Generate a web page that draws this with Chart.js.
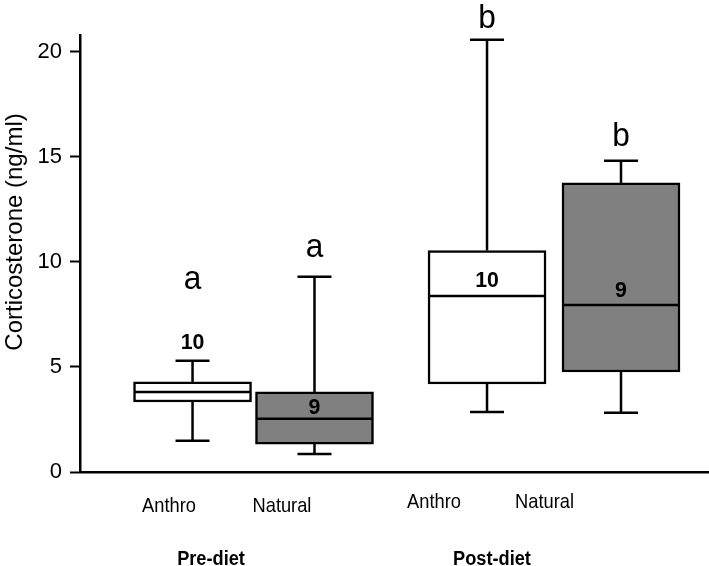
<!DOCTYPE html>
<html>
<head>
<meta charset="utf-8">
<script src="https://cdn.jsdelivr.net/npm/chart.js@4/dist/chart.umd.min.js"></script>
<style>
html, body { margin: 0; padding: 0; background: #ffffff; }
#wrap { width: 709px; height: 566px; }
</style>
</head>
<body>
<div id="wrap"><canvas id="c" width="709" height="566"></canvas></div>
<script>
// ---------------- data ----------------
const groups = ['Pre-diet', 'Post-diet'];
const diets = ['Anthro', 'Natural'];

const anthroMin    = [1.49, 2.86];
const anthroQ1     = [3.33, 4.19];
const anthroMedian = [3.81, 8.38];
const anthroQ3     = [4.29, 10.54];
const anthroMax    = [5.30, 20.57];
const anthroN      = [10, 10];
const anthroLetter = ['a', 'b'];

const naturalMin    = [0.86, 2.82];
const naturalQ1     = [1.33, 4.76];
const naturalMedian = [2.54, 7.95];
const naturalQ3     = [3.81, 13.76];
const naturalMax    = [9.29, 14.82];
const naturalN      = [9, 9];
const naturalLetter = ['a', 'b'];

const yTicks = [0, 5, 10, 15, 20];
const yTitle = 'Corticosterone (ng/ml)';

// ---------------- layout (positions on the x value axis, 0..10) ----------------
const SLOT_X   = { Anthro: [1.789, 6.471], Natural: [3.728, 8.601] };
const LABEL_X  = { Anthro: [1.415, 5.628], Natural: [3.211, 7.385] };
const GROUP_X  = [2.083, 6.550];
const N_Y      = { Anthro: [5.86, 8.81], Natural: [2.76, 8.33] };
const LETTER_Y = { Anthro: [8.71, 21.14], Natural: [10.24, 15.52] };
const SUB_BASELINE = [512, 508];
const GROUP_BASELINE = 565;

const FONT = "'Liberation Sans', Arial, Helvetica, sans-serif";

function buildDataset(name, mins, q1s, meds, q3s, maxs, ns, letters, fill) {
  return {
    label: name,
    data: groups.map((g, i) => ({ x: SLOT_X[name][i], y: [q1s[i], q3s[i]] })),
    stats: groups.map((g, i) => ({ min: mins[i], q1: q1s[i], med: meds[i], q3: q3s[i], max: maxs[i],
                                   n: ns[i], letter: letters[i], nY: N_Y[name][i], letterY: LETTER_Y[name][i] })),
    backgroundColor: fill,
    borderColor: '#000000',
    borderWidth: 2.5,
    borderSkipped: false,
    stack: 'boxes',
    barThickness: 118
  };
}

const datasets = [
  buildDataset('Anthro', anthroMin, anthroQ1, anthroMedian, anthroQ3, anthroMax, anthroN, anthroLetter, '#ffffff'),
  buildDataset('Natural', naturalMin, naturalQ1, naturalMedian, naturalQ3, naturalMax, naturalN, naturalLetter, '#808080')
];

function drawText(ctx, text, x, y, font, sx) {
  ctx.save();
  ctx.translate(x, y);
  ctx.scale(sx, 1);
  ctx.font = font;
  ctx.fillText(text, 0, 0);
  ctx.restore();
}

const boxPlugin = {
  id: 'boxExtras',
  afterDatasetsDraw(chart) {
    const ctx = chart.ctx, ys = chart.scales.y;
    ctx.save();
    ctx.strokeStyle = '#000000';
    ctx.lineWidth = 2.5;
    ctx.lineCap = 'butt';
    const line = (x1, y1, x2, y2) => { ctx.beginPath(); ctx.moveTo(x1, y1); ctx.lineTo(x2, y2); ctx.stroke(); };
    chart.data.datasets.forEach((ds, di) => {
      const meta = chart.getDatasetMeta(di);
      ds.stats.forEach((s, i) => {
        const bar = meta.data[i];
        const cx = bar.x, half = bar.width / 2;
        const pMin = ys.getPixelForValue(s.min), pQ1 = ys.getPixelForValue(s.q1);
        const pMed = ys.getPixelForValue(s.med), pQ3 = ys.getPixelForValue(s.q3);
        const pMax = ys.getPixelForValue(s.max);
        line(cx, pQ3, cx, pMax);
        line(cx - 17, pMax, cx + 17, pMax);
        line(cx, pQ1, cx, pMin);
        line(cx - 17, pMin, cx + 17, pMin);
        line(cx - half + 1, pMed, cx + half - 1, pMed);
      });
    });
    ctx.restore();
  },
  afterDraw(chart) {
    const ctx = chart.ctx, xs = chart.scales.x, ys = chart.scales.y;
    ctx.save();
    ctx.fillStyle = '#000000';
    ctx.textAlign = 'center';
    ctx.textBaseline = 'alphabetic';
    chart.data.datasets.forEach((ds, di) => {
      const meta = chart.getDatasetMeta(di);
      ds.stats.forEach((s, i) => {
        const cx = meta.data[i].x;
        drawText(ctx, String(s.n), cx, ys.getPixelForValue(s.nY), 'bold 22px ' + FONT, 0.97);
        drawText(ctx, s.letter, cx, ys.getPixelForValue(s.letterY), '34px ' + FONT, 0.93);
      });
    });
    groups.forEach((g, gi) => {
      diets.forEach(d => {
        drawText(ctx, d, xs.getPixelForValue(LABEL_X[d][gi]), SUB_BASELINE[gi], '21px ' + FONT, 0.87);
      });
      drawText(ctx, g, xs.getPixelForValue(GROUP_X[gi]), GROUP_BASELINE, 'bold 20px ' + FONT, 0.91);
    });
    ctx.translate(15, 232);
    ctx.rotate(-Math.PI / 2);
    ctx.font = '24px ' + FONT;
    ctx.textBaseline = 'middle';
    ctx.fillText(yTitle, 0, 0);
    ctx.restore();
  }
};

new Chart(document.getElementById('c'), {
  type: 'bar',
  data: { datasets },
  plugins: [boxPlugin],
  options: {
    responsive: false,
    animation: false,
    devicePixelRatio: 1,
    layout: { padding: { top: 35, right: 0, left: 0, bottom: 0 } },
    plugins: { legend: { display: false }, tooltip: { enabled: false } },
    scales: {
      x: {
        type: 'linear',
        min: 0,
        max: 10,
        offset: false,
        grid: { display: false, drawTicks: false, offset: false },
        border: { display: true, color: '#000000', width: 2.5 },
        afterBuildTicks: s => { s.ticks = []; },
        afterFit: s => { s.height = 94; },
        ticks: { display: false }
      },
      y: {
        type: 'linear',
        min: 0,
        max: 20.8,
        stacked: false,
        grid: { display: true, drawOnChartArea: false, drawTicks: true, tickLength: 10, tickWidth: 2, tickColor: '#000000' },
        border: { display: true, color: '#000000', width: 2.5 },
        afterBuildTicks: s => { s.ticks = yTicks.map(v => ({ value: v })); },
        afterFit: s => { s.width = 80; },
        ticks: {
          padding: 8,
          color: '#000000',
          font: { family: FONT, size: 22 },
          callback: v => String(v)
        }
      }
    }
  }
});
</script>
</body>
</html>
